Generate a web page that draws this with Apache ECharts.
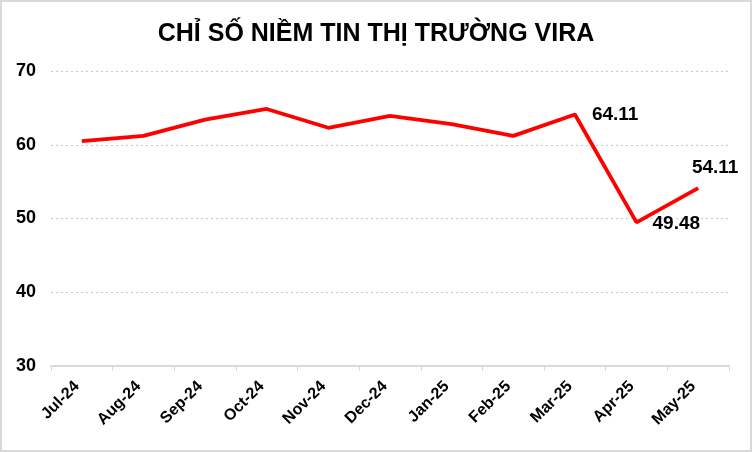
<!DOCTYPE html>
<html><head><meta charset="utf-8">
<script src="https://cdn.jsdelivr.net/npm/echarts@6/dist/echarts.min.js"></script>
<style>
html,body{margin:0;padding:0;background:#fff;}
#c{position:absolute;left:0;top:0;width:748px;height:448px;border:2px solid #d9d9d9;}
</style></head><body>
<div id="c"></div>
<script>
const title = 'CHỈ SỐ NIỀM TIN THỊ TRƯỜNG VIRA';
const categories = ['Jul-24','Aug-24','Sep-24','Oct-24','Nov-24','Dec-24','Jan-25','Feb-25','Mar-25','Apr-25','May-25'];
const values = [60.5, 61.2, 63.4, 64.85, 62.3, 63.9, 62.8, 61.2, 64.11, 49.48, 54.11];
const labeledIdx = [8, 9, 10];

const labelStyles = {
  8: {position:'right', distance:17, offset:[0,0]},
  9: {position:'right', distance:16, offset:[0,1]},
  10:{position:'top', distance:11, offset:[17,0]}
};
const data = values.map((v,i)=>{
  if (labeledIdx.includes(i)) {
    return {value:v, label:Object.assign({show:true, formatter:(p)=>p.value.toFixed(2), fontSize:19, fontWeight:'bold', color:'#000', fontFamily:'Liberation Sans, Arial'}, labelStyles[i])};
  }
  return v;
});

const chart = echarts.init(document.getElementById('c'));
chart.setOption({
  animation:false,
  title:{text:title, left:'center', top:15, textStyle:{fontFamily:'Liberation Sans, Arial', fontSize:25, fontWeight:'bold', color:'#000'}},
  grid:{left:49, right:21, top:69, bottom:84},
  xAxis:{type:'category', data:categories, boundaryGap:true,
    axisLine:{lineStyle:{color:'#d9d9d9', width:2}},
    axisTick:{show:true, alignWithLabel:false, length:5, lineStyle:{color:'#d9d9d9'}},
    axisLabel:{rotate:45, interval:0, fontSize:16, fontWeight:'bold', color:'#000', fontFamily:'Liberation Sans, Arial', margin:13, padding:[0,7,0,0]}},
  yAxis:{type:'value', min:30, max:70, interval:10,
    axisLine:{show:false}, axisTick:{show:false},
    splitLine:{lineStyle:{color:'#c8c8c8', type:[2,3], width:1.2}},
    axisLabel:{fontSize:18, fontWeight:'bold', color:'#000', fontFamily:'Liberation Sans, Arial', margin:15}},
  series:[{type:'line', data:data, symbol:'circle', symbolSize:0, showSymbol:true, lineStyle:{color:'#ff0000', width:3.8}, itemStyle:{color:'#ff0000'}}]
});
</script></body></html>
